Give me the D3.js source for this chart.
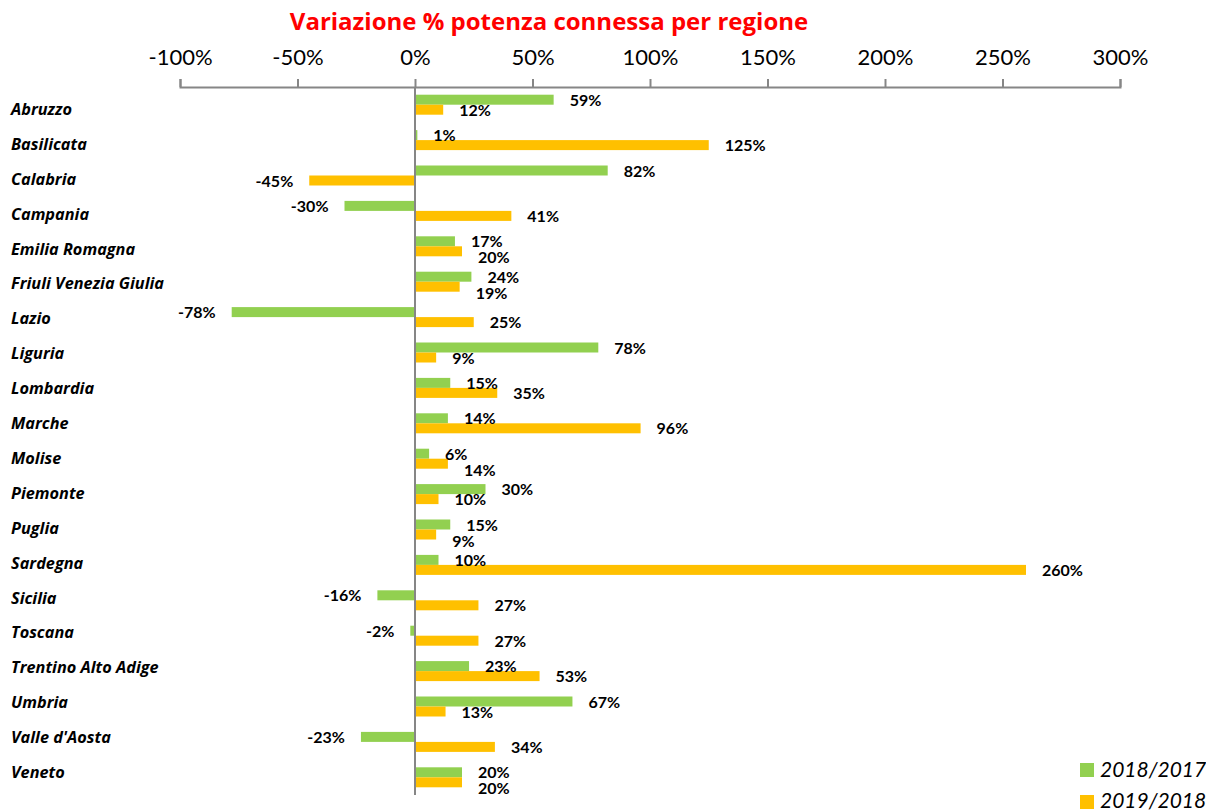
<!DOCTYPE html>
<html>
<head>
<meta charset="utf-8">
<script src="https://cdn.jsdelivr.net/npm/d3@7"></script>
<style>
  html, body { margin: 0; padding: 0; background: #fff; }
  svg { display: block; }
</style>
</head>
<body>
<svg id="chart" width="1206" height="810"></svg>
<script>
const categories = ["Abruzzo","Basilicata","Calabria","Campania","Emilia Romagna","Friuli Venezia Giulia","Lazio","Liguria","Lombardia","Marche","Molise","Piemonte","Puglia","Sardegna","Sicilia","Toscana","Trentino Alto Adige","Umbria","Valle d'Aosta","Veneto"];
const series2018_2017 = [0.59,0.01,0.82,-0.30,0.17,0.24,-0.78,0.78,0.15,0.14,0.06,0.30,0.15,0.10,-0.16,-0.02,0.23,0.67,-0.23,0.20];
const series2019_2018 = [0.12,1.25,-0.45,0.41,0.20,0.19,0.25,0.09,0.35,0.96,0.14,0.10,0.09,2.60,0.27,0.27,0.53,0.13,0.34,0.20];
const seriesNames = ["2018/2017","2019/2018"];
const tickValues = [-1,-0.5,0,0.5,1,1.5,2,2.5,3];
const title = "Variazione % potenza connessa per regione";

const colors = ["#92D050","#FFC000"];
const svg = d3.select("#chart");
const LATO = "Lato, sans-serif";
const OPEN = "'Open Sans', 'Liberation Sans', sans-serif";

const x = d3.scaleLinear().domain([-1,3]).range([180,1120]);
const y = d3.scaleBand().domain(categories).range([87,795]);
const yLabel = d3.scalePoint().domain(categories).range([110,773]);
const barH = 10;
const fmt = d => Math.round(d*100) + "%";

svg.append("text")
  .attr("x", 549).attr("y", 30)
  .attr("text-anchor","middle")
  .style("font-family", OPEN).style("font-size","24px").style("font-weight","bold")
  .attr("fill","#FF0000")
  .text(title);

const axis = d3.axisTop(x).tickValues(tickValues).tickSize(8).tickPadding(14).tickFormat(fmt);
const ax = svg.append("g").attr("transform","translate(0,87)").call(axis);
ax.select(".domain").attr("stroke","#868686").attr("stroke-width",2);
ax.selectAll(".tick line").attr("stroke","#868686").attr("stroke-width",2);
ax.selectAll(".tick text").attr("fill","#000")
  .style("font-family", LATO).style("font-size","22px");

// category labels
svg.append("g").selectAll("text").data(categories).join("text")
  .attr("x", 11)
  .attr("y", d => yLabel(d) + 5)
  .style("font-family", OPEN).style("font-size","16.3px")
  .style("font-weight","bold").style("font-style","italic")
  .attr("fill","#000")
  .text(d => d);

// bars
const allSeries = [series2018_2017, series2019_2018];
allSeries.forEach((vals, si) => {
  svg.append("g").selectAll("rect").data(vals).join("rect")
    .attr("x", d => Math.min(x(0), x(d)))
    .attr("width", d => Math.abs(x(d) - x(0)))
    .attr("y", (d,i) => y(categories[i]) + y.bandwidth()/2 - barH + si*barH)
    .attr("height", barH)
    .attr("fill", colors[si]);
});

// value labels (orange label pushed down when it collides with the green one)
const labelG = svg.append("g");
function valueLabels(cls, vals, dy) {
  return labelG.selectAll("text." + cls).data(vals).join("text")
    .attr("class", cls)
    .attr("x", d => d >= 0 ? x(d) + 16 : x(d) - 16)
    .attr("text-anchor", d => d >= 0 ? "start" : "end")
    .attr("y", (d,i) => y(categories[i]) + y.bandwidth()/2 + dy + 6)
    .style("font-family", LATO).style("font-size","16px").style("font-weight","bold")
    .attr("fill","#000")
    .text(fmt);
}
const greenLabels = valueLabels("g", series2018_2017, -barH/2);
const orangeLabels = valueLabels("o", series2019_2018, barH/2);
const gNodes = greenLabels.nodes();
orangeLabels.each(function(d, i) {
  const a = gNodes[i].getBBox(), b = this.getBBox();
  const overlapX = a.x < b.x + b.width && b.x < a.x + a.width;
  if (overlapX) {
    const gy = +gNodes[i].getAttribute("y");
    const oy = +this.getAttribute("y");
    if (oy - gy < 16) this.setAttribute("y", gy + 16);
  }
});

// zero line
svg.append("line")
  .attr("x1", x(0)).attr("x2", x(0))
  .attr("y1", 87).attr("y2", 795)
  .attr("stroke","#868686").attr("stroke-width",2);

// legend
const leg = svg.append("g");
seriesNames.forEach((n, i) => {
  leg.append("rect").attr("x",1080).attr("y",763 + i*32).attr("width",14).attr("height",14).attr("fill",colors[i]);
  leg.append("text").attr("x",1100).attr("y",777 + i*31)
    .style("font-family", LATO).style("font-size","21px").style("font-style","italic")
    .attr("fill","#000").text(n);
});
</script>
</body>
</html>
